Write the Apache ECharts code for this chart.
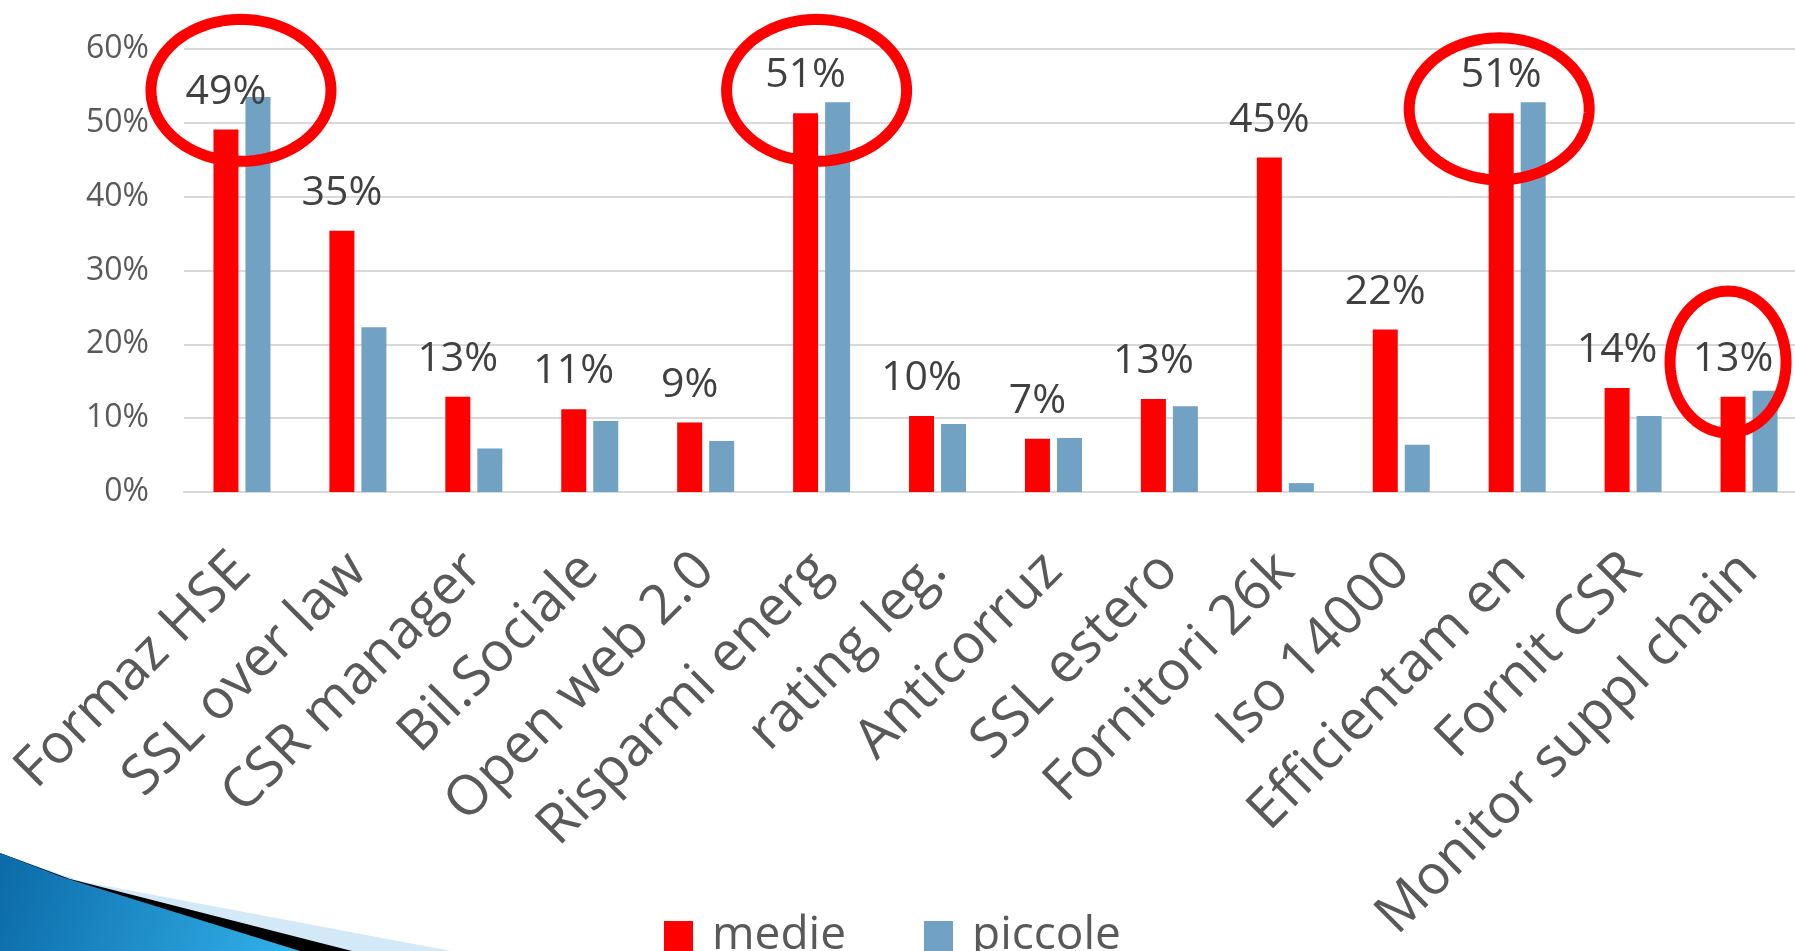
<!DOCTYPE html>
<html>
<head>
<meta charset="utf-8">
<script src="https://cdn.jsdelivr.net/npm/echarts@6/dist/echarts.min.js"></script>
<style>
  html, body { margin: 0; padding: 0; background: #ffffff; }
  #chart { width: 1795px; height: 951px; }
</style>
</head>
<body>
<div id="chart"></div>
<script>
// ---- data ----
const categories = ['Formaz HSE', 'SSL over law', 'CSR manager', 'Bil.Sociale', 'Open web 2.0',
  'Risparmi energ', 'rating leg.', 'Anticorruz', 'SSL estero', 'Fornitori 26k', 'Iso 14000',
  'Efficientam en', 'Fornit CSR', 'Monitor suppl chain'];
const medie =   [49.1, 35.4, 12.9, 11.2, 9.4, 51.3, 10.3, 7.2, 12.6, 45.3, 22.0, 51.3, 14.1, 12.9];
const piccole = [53.5, 22.3, 5.9, 9.6, 6.9, 52.8, 9.2, 7.3, 11.6, 1.2, 6.4, 52.8, 10.3, 13.7];
const yTicks = [0, 10, 20, 30, 40, 50, 60];
const seriesNames = ['medie', 'piccole'];
// highlighted categories (red ellipses) and the value at each ellipse centre
const circledCategories = ['Formaz HSE', 'Risparmi energ', 'Efficientam en', 'Monitor suppl chain'];
const circledCentreValues = [54.4, 54.4, 51.9, 17.6];

// ---- styles (pixel sizes of the ellipses) ----
const ellipseStyle = [
  { dx: -1, rx: 90, ry: 71 },
  { dx: -5, rx: 90, ry: 71 },
  { dx: -18, rx: 90, ry: 71 },
  { dx: -21, rx: 58, ry: 71 }
];

const FONT = '"Open Sans", "Noto Sans", sans-serif';
const chart = echarts.init(document.getElementById('chart'), null, { renderer: 'canvas' });

const option = {
  animation: false,
  backgroundColor: '#ffffff',
  graphic: [
    { type: 'polygon', z: 0, shape: { points: [[0, 853], [80, 881], [451, 951], [0, 951]] },
      style: { fill: '#d3e9f8' } },
    { type: 'polygon', z: 1, shape: { points: [[0, 853], [70, 879], [352, 951], [0, 951]] },
      style: { fill: '#000000' } },
    { type: 'polygon', z: 2, shape: { points: [[0, 853], [62, 877], [300, 951], [0, 951]] },
      style: { fill: new echarts.graphic.LinearGradient(0, 0, 1, 1, [
        { offset: 0, color: '#0b6aa8' }, { offset: 1, color: '#33b2ea' }]) } }
  ],
  grid: { left: 184, width: 1623, top: 49, height: 443, containLabel: false, outerBoundsMode: 'none' },
  legend: {
    data: seriesNames,
    left: 659,
    top: 908,
    itemWidth: 29,
    itemHeight: 30,
    itemGap: 78,
    icon: 'rect',
    textStyle: { fontFamily: FONT, fontSize: 46, color: '#595959', padding: [0, 0, 0, 14] }
  },
  xAxis: {
    type: 'category',
    data: categories,
    axisTick: { show: false },
    axisLine: { show: true, lineStyle: { color: '#d9d9d9', width: 2 } },
    axisLabel: {
      interval: 0, rotate: 45, margin: 70,
      fontFamily: FONT, fontSize: 55, color: '#595959'
    }
  },
  yAxis: {
    type: 'value',
    min: yTicks[0], max: yTicks[yTicks.length - 1], interval: yTicks[1] - yTicks[0],
    axisLine: { show: false },
    axisTick: { show: false },
    splitLine: { lineStyle: { color: '#d9d9d9', width: 2 } },
    axisLabel: {
      formatter: '{value}%', margin: 35,
      fontFamily: FONT, fontSize: 32, color: '#595959'
    }
  },
  series: [
    {
      name: seriesNames[0], type: 'bar', data: medie,
      barWidth: 25, barGap: '28%',
      itemStyle: { color: '#ff0000' },
      label: {
        show: true, position: 'top', distance: 17,
        formatter: p => Math.round(p.value) + '%',
        fontFamily: FONT, fontSize: 41, color: '#404040'
      }
    },
    {
      name: seriesNames[1], type: 'bar', data: piccole,
      barWidth: 25, barGap: '28%',
      itemStyle: { color: '#71a1c3' }
    },
    {
      name: 'highlight', type: 'custom', z: 10, silent: true,
      data: circledCategories.map((c, i) => [c, circledCentreValues[i]]),
      renderItem: function (params, api) {
        const c = api.coord([api.value(0), api.value(1)]);
        const s = ellipseStyle[params.dataIndex];
        const cx = c[0] + s.dx, cy = c[1];
        const pts = [];
        for (let k = 0; k < 120; k++) {
          const t = k / 120 * Math.PI * 2;
          pts.push([cx + s.rx * Math.cos(t), cy + s.ry * Math.sin(t)]);
        }
        return {
          type: 'polygon',
          shape: { points: pts },
          style: { fill: 'none', stroke: '#ff0000', lineWidth: 11 }
        };
      }
    }
  ]
};
chart.setOption(option);
</script>
</body>
</html>
